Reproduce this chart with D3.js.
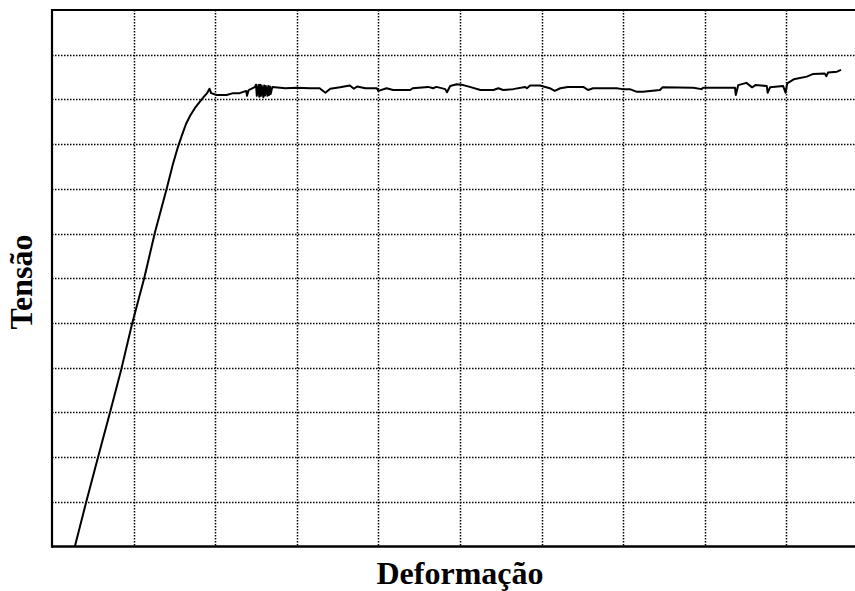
<!DOCTYPE html>
<html>
<head>
<meta charset="utf-8">
<script src="https://cdn.jsdelivr.net/npm/d3@7"></script>
<style>
    body { margin: 0; background: #fff; }
    svg { display: block; }
</style>
</head>
<body>
<svg id="chart" width="855" height="591"></svg>
<script>
// strain / stress curve, arbitrary units (1 unit = 1 grid cell)
const strain = [0.28, 0.42, 0.56, 0.71, 0.85, 0.98, 1.13, 1.262, 1.336, 1.406, 1.483, 1.544, 1.593, 1.642,
    1.691, 1.752, 1.808, 1.857, 1.90, 1.93, 1.95, 2.02, 2.14, 2.22, 2.30, 2.38, 2.39, 2.41, 2.49,
    2.50, 2.51, 2.53, 2.54, 2.55, 2.56, 2.57, 2.59, 2.60, 2.61, 2.62, 2.64, 2.65, 2.66, 2.67, 2.68, 2.70,
    2.86, 3.00, 3.16, 3.28, 3.35, 3.41, 3.53, 3.65, 3.70, 3.74, 3.84, 3.98,
    4.00, 4.10, 4.18, 4.39, 4.42, 4.61, 4.67, 4.71, 4.82, 4.84, 4.88, 4.96, 5.04, 5.12, 5.25, 5.41,
    5.47, 5.53, 5.65, 5.80, 5.82, 5.86, 5.98, 6.10, 6.16, 6.23, 6.32, 6.51, 6.57, 6.63, 6.92, 6.99,
    7.08, 7.17, 7.24, 7.45, 7.48, 7.86, 7.96, 7.98, 8.37, 8.38, 8.41, 8.51, 8.58, 8.62, 8.76, 8.77,
    8.80, 8.96, 8.99, 9.01, 9.09, 9.25, 9.33, 9.47, 9.49, 9.51, 9.62, 9.67];
const stress = [0.00, 1.00, 1.97, 2.99, 3.97, 4.97, 6.00, 7.03, 7.53, 8.01, 8.56, 8.94, 9.20, 9.45,
    9.63, 9.81, 9.94, 10.05, 10.14, 10.24, 10.14, 10.10, 10.10, 10.14, 10.14, 10.19, 10.08, 10.21, 10.28,
    10.33, 10.08, 10.32, 10.06, 10.33, 10.08, 10.31, 10.05, 10.31, 10.09, 10.30, 10.08, 10.30, 10.10, 10.29, 10.12, 10.28,
    10.25, 10.26, 10.25, 10.25, 10.15, 10.24, 10.27, 10.31, 10.24, 10.29, 10.25, 10.25,
    10.19, 10.25, 10.21, 10.21, 10.25, 10.28, 10.25, 10.28, 10.23, 10.16, 10.30, 10.34, 10.32, 10.28, 10.21, 10.21,
    10.25, 10.21, 10.23, 10.28, 10.25, 10.31, 10.31, 10.25, 10.19, 10.25, 10.28, 10.28, 10.21, 10.25, 10.25, 10.23,
    10.23, 10.17, 10.17, 10.21, 10.27, 10.26, 10.23, 10.26, 10.26, 10.10, 10.32, 10.37, 10.27, 10.32, 10.30, 10.15,
    10.27, 10.30, 10.15, 10.36, 10.45, 10.51, 10.57, 10.58, 10.52, 10.60, 10.62, 10.66];

const xGrid = [1, 2, 3, 4, 5, 6, 7, 8, 9];
const yGrid = [1, 2, 3, 4, 5, 6, 7, 8, 9, 10, 11];

const xTitle = "Deformação";
const yTitle = "Tensão";

const svg = d3.select("#chart");
const W = 855;
const plotLeft = 52, plotTop = 10, plotBottom = 546.5;

const x = d3.scaleLinear().domain([0, 10]).range([plotLeft, plotLeft + 816]);
const y = d3.scaleLinear().domain([0, 12]).range([plotBottom, plotTop]);

// dotted grid
const grid = svg.append("g")
    .attr("stroke", "#000")
    .attr("stroke-width", 1.5)
    .attr("stroke-dasharray", "1.5,1.5");

grid.selectAll("line.v").data(xGrid).join("line")
    .attr("class", "v")
    .attr("x1", d => Math.round(x(d)) + 0.5).attr("x2", d => Math.round(x(d)) + 0.5)
    .attr("y1", plotTop).attr("y2", plotBottom);

grid.selectAll("line.h").data(yGrid).join("line")
    .attr("class", "h")
    .attr("x1", plotLeft).attr("x2", W)
    .attr("y1", d => Math.round(y(d)) + 0.5).attr("y2", d => Math.round(y(d)) + 0.5);

// frame (right side is cut off in the original)
const frame = svg.append("g").attr("stroke", "#000").attr("fill", "none");
frame.append("line").attr("x1", plotLeft).attr("x2", W).attr("y1", plotTop).attr("y2", plotTop).attr("stroke-width", 2);
frame.append("line").attr("x1", plotLeft).attr("x2", W).attr("y1", plotBottom).attr("y2", plotBottom).attr("stroke-width", 2.5);
frame.append("line").attr("x1", plotLeft).attr("x2", plotLeft).attr("y1", plotTop - 1).attr("y2", plotBottom + 1.2).attr("stroke-width", 2.2);

// curve
const pts = strain.map((s, i) => [s, stress[i]]);
const line = d3.line().x(d => x(d[0])).y(d => y(d[1]));

svg.append("path")
    .datum(pts)
    .attr("fill", "none")
    .attr("stroke", "#000")
    .attr("stroke-width", 2)
    .attr("stroke-linejoin", "round")
    .attr("d", line);

// axis titles
svg.append("text")
    .attr("x", 460).attr("y", 584)
    .attr("text-anchor", "middle")
    .attr("font-family", "'Liberation Serif', 'Times New Roman', serif")
    .attr("font-weight", "bold")
    .attr("font-size", 32)
    .text(xTitle);

svg.append("text")
    .attr("transform", "translate(32,282) rotate(-90)")
    .attr("text-anchor", "middle")
    .attr("font-family", "'Liberation Serif', 'Times New Roman', serif")
    .attr("font-weight", "bold")
    .attr("font-size", 32)
    .text(yTitle);
</script>
</body>
</html>
